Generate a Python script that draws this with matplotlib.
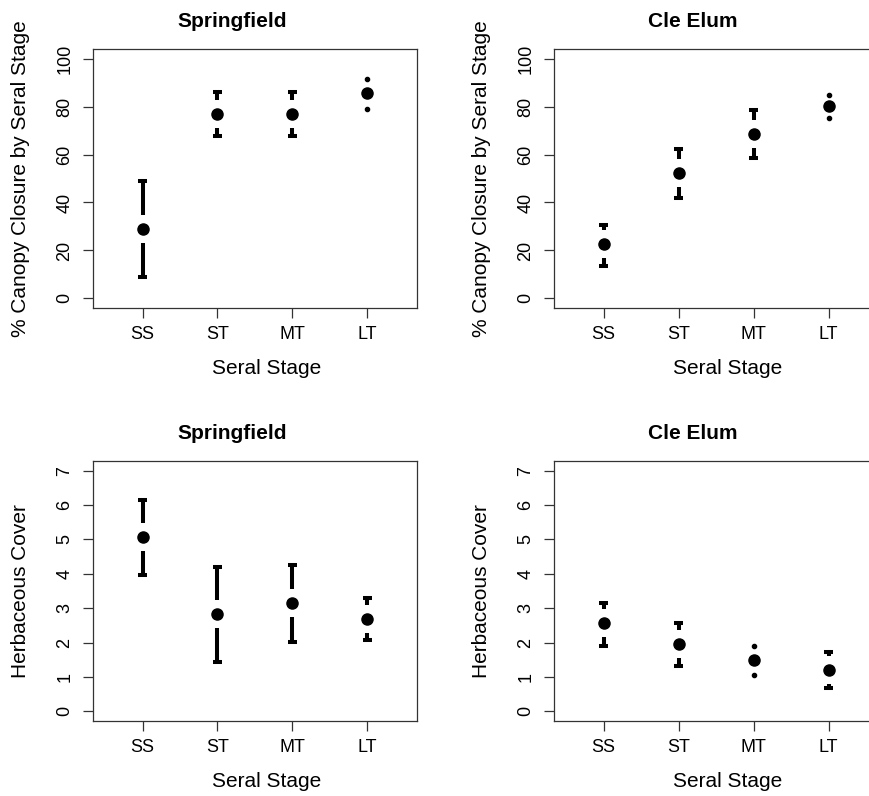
import matplotlib.pyplot as plt

plt.rcParams['font.family'] = ['Liberation Sans', 'DejaVu Sans']

stages = ['SS', 'ST', 'MT', 'LT']
sites = ['Springfield', 'Cle Elum']

# canopy closure (%) : mean, upper, lower
canopy_mean = {'Springfield': [29.1, 76.9, 76.9, 85.6], 'Cle Elum': [22.6, 52.5, 68.7, 80.2]}
canopy_upper = {'Springfield': [49.1, 86.2, 86.0, 91.5], 'Cle Elum': [30.5, 62.4, 78.6, 85.0]}
canopy_lower = {'Springfield': [8.8, 67.6, 67.6, 79.0], 'Cle Elum': [13.6, 41.8, 58.6, 75.2]}

# herbaceous cover : mean, upper, lower
herb_mean = {'Springfield': [5.07, 2.82, 3.15, 2.68], 'Cle Elum': [2.56, 1.95, 1.48, 1.19]}
herb_upper = {'Springfield': [6.14, 4.21, 4.25, 3.29], 'Cle Elum': [3.14, 2.58, 1.90, 1.72]}
herb_lower = {'Springfield': [3.96, 1.44, 2.03, 2.07], 'Cle Elum': [1.90, 1.33, 1.06, 0.67]}

canopy_ticks = [0, 20, 40, 60, 80, 100]
herb_ticks = [0, 1, 2, 3, 4, 5, 6, 7]

W, H = 869, 796
fig = plt.figure(figsize=(W / 100, H / 100), dpi=100)


def make_axes(left, top, right, bottom):
    return fig.add_axes([left / W, 1 - bottom / H, (right - left) / W, (bottom - top) / H])


def ci_plot(ax, means, upper, lower, ymax):
    # R-style plotCI: bars leave a gap around the point, tiny intervals show as dots
    x = range(1, len(means) + 1)
    ax.set_xlim(0.34, 4.66)
    ax.set_ylim(-0.04 * ymax, 1.04 * ymax)
    unit = 1.08 * ymax / ax.get_window_extent().height   # data units per pixel
    gap = 14 * unit
    short = 17 * unit
    cw = 0.066
    for xi, m, u, l in zip(x, means, upper, lower):
        if u > m + short:
            ax.plot([xi, xi], [m + gap, u], color='black', lw=2.9, solid_capstyle='butt')
            ax.plot([xi - cw, xi + cw], [u, u], color='black', lw=2.9, solid_capstyle='butt')
        else:
            ax.plot(xi, u, 'o', color='black', ms=3)
        if l < m - short:
            ax.plot([xi, xi], [l, m - gap], color='black', lw=2.9, solid_capstyle='butt')
            ax.plot([xi - cw, xi + cw], [l, l], color='black', lw=2.9, solid_capstyle='butt')
        else:
            ax.plot(xi, l, 'o', color='black', ms=3)
    ax.plot(list(x), means, 'o', color='black', ms=8, ls='none')


def style(ax, title, ylabel, ticks):
    ax.set_xticks([1, 2, 3, 4])
    ax.set_xticklabels(stages)
    ax.set_yticks(ticks)
    ax.tick_params(axis='both', direction='out', length=7, width=0.9, color='#333333',
                   labelsize=13, pad=6)
    ax.tick_params(axis='y', labelrotation=90, pad=7)
    for lab in ax.get_yticklabels():
        lab.set_va('center')
    for s in ax.spines.values():
        s.set_color('#333333')
        s.set_linewidth(0.9)
    ax.set_title(title, fontsize=15, fontweight='bold', x=0.429, pad=16)
    ax.set_xlabel('Seral Stage', fontsize=15, va='center')
    ax.xaxis.set_label_coords(0.535, -0.232)
    ax.set_ylabel(ylabel, fontsize=15, va='center')
    ax.yaxis.set_label_coords(-0.225, 0.5)


lefts = [(93, 417), (554, 878)]
for (l, r), site in zip(lefts, sites):
    ax = make_axes(l, 49, r, 308)
    ci_plot(ax, canopy_mean[site], canopy_upper[site], canopy_lower[site], 100)
    style(ax, site, '% Canopy Closure by Seral Stage', canopy_ticks)

    ax = make_axes(l, 461, r, 721)
    ci_plot(ax, herb_mean[site], herb_upper[site], herb_lower[site], 7)
    style(ax, site, 'Herbaceous Cover', herb_ticks)

fig.savefig('out.png', dpi=100)
